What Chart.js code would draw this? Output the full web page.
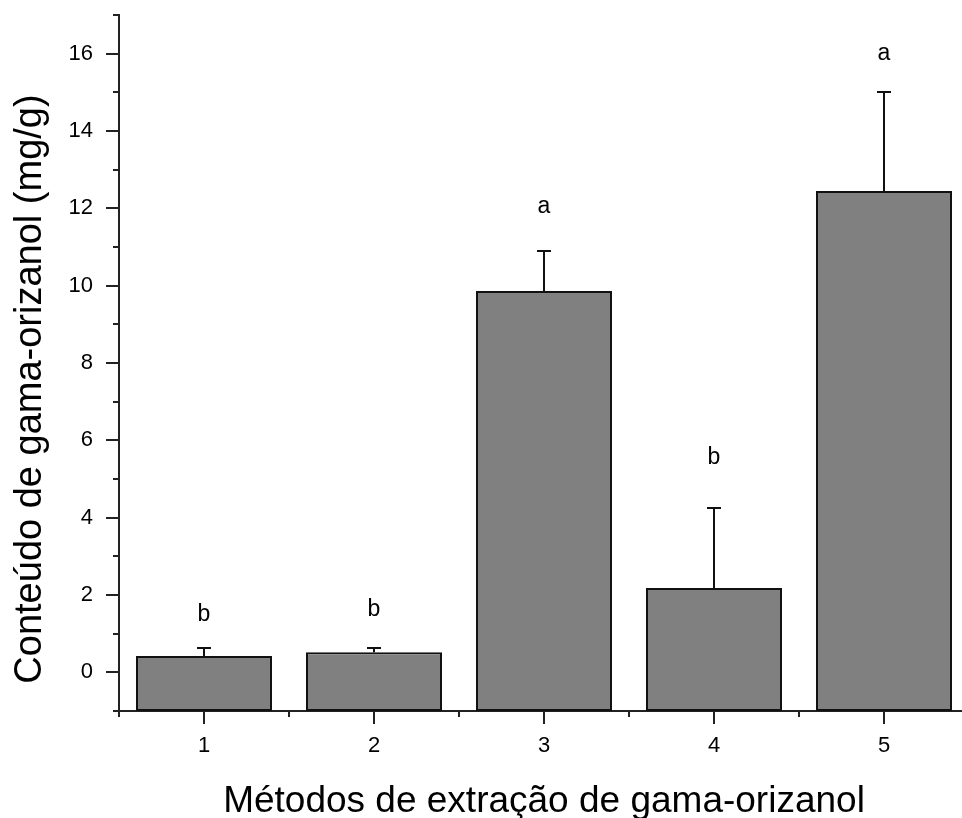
<!DOCTYPE html>
<html><head><meta charset="utf-8">
<script src="https://cdn.jsdelivr.net/npm/chart.js@4.4.0/dist/chart.umd.min.js"></script>
<style>html,body{margin:0;padding:0;background:#fff;overflow:hidden;}#wrap{width:975px;height:818px;position:relative;}</style>
</head><body><div id="wrap"><canvas id="c"></canvas></div>
<script>
// ---- data ----
const categories = ['1', '2', '3', '4', '5'];
const means = [0.42, 0.52, 9.86, 2.18, 12.45];
const stdDev = [0.21, 0.12, 1.03, 2.07, 2.55];
const groupLetters = ['b', 'b', 'a', 'b', 'a'];
const letterLevels = [1.33, 1.45, 11.89, 5.38, 15.83];
const yTickLabels = [0, 2, 4, 6, 8, 10, 12, 14, 16];
const yMin = -1, yMax = 17;
const xTitle = 'Métodos de extração de gama-orizanol';
const yTitle = 'Conteúdo de gama-orizanol (mg/g)';

const FONT = '"Liberation Sans", Arial, sans-serif';
const AXIS = '#222';

const decor = {
  id: 'decor',
  afterDatasetsDraw(chart) {
    const ctx = chart.ctx, xs = chart.scales.x, ys = chart.scales.y, ca = chart.chartArea;
    ctx.save();
    // error bars (upper only)
    ctx.strokeStyle = '#111'; ctx.lineWidth = 2;
    means.forEach((m, i) => {
      const x = Math.round(xs.getPixelForValue(i));
      const y0 = ys.getPixelForValue(m), y1 = Math.round(ys.getPixelForValue(m + stdDev[i]));
      ctx.beginPath();
      ctx.moveTo(x, y0); ctx.lineTo(x, y1);
      ctx.moveTo(x - 7, y1); ctx.lineTo(x + 7, y1);
      ctx.stroke();
    });
    // significance letters
    ctx.fillStyle = '#000'; ctx.font = '23px ' + FONT;
    ctx.textAlign = 'center'; ctx.textBaseline = 'alphabetic';
    groupLetters.forEach((t, i) => ctx.fillText(t, xs.getPixelForValue(i), ys.getPixelForValue(letterLevels[i])));
    // tick marks
    ctx.strokeStyle = AXIS; ctx.lineWidth = 2;
    ctx.beginPath();
    for (let v = yMin; v <= yMax; v++) {
      const y = Math.round(ys.getPixelForValue(v));
      const len = yTickLabels.includes(v) ? 13 : 6;
      ctx.moveTo(ca.left - len, y); ctx.lineTo(ca.left, y);
    }
    for (let i = 0; i < categories.length; i++) {
      const x = Math.round(xs.getPixelForValue(i));
      ctx.moveTo(x, ca.bottom); ctx.lineTo(x, ca.bottom + 13);
      const xm = Math.round(xs.getPixelForValue(i - 0.5));
      ctx.moveTo(xm, ca.bottom); ctx.lineTo(xm, ca.bottom + 6);
    }
    const xe = Math.round(xs.getPixelForValue(categories.length - 0.5));
    ctx.moveTo(xe, ca.bottom); ctx.lineTo(xe, ca.bottom + 6);
    ctx.stroke();
    ctx.restore();
  },
  afterDraw(chart) {
    const ctx = chart.ctx, ca = chart.chartArea;
    ctx.save();
    ctx.fillStyle = '#000';
    ctx.textAlign = 'center'; ctx.textBaseline = 'alphabetic';
    ctx.font = '37px ' + FONT;
    ctx.fillText(xTitle, (ca.left + ca.right) / 2, 812);
    ctx.translate(41, 389);
    ctx.rotate(-Math.PI / 2);
    ctx.font = '38px ' + FONT;
    ctx.fillText(yTitle, 0, 0);
    ctx.restore();
  }
};

new Chart(document.getElementById('c'), {
  type: 'bar',
  data: {
    labels: categories,
    datasets: [{
      data: means,
      base: yMin,
      backgroundColor: '#808080',
      borderColor: '#111',
      borderWidth: 2,
      borderSkipped: false,
      barPercentage: 0.8,
      categoryPercentage: 1.0
    }]
  },
  options: {
    responsive: true,
    maintainAspectRatio: false,
    animation: false,
    layout: { padding: { top: 15, right: 6, left: 0, bottom: 0 } },
    plugins: { legend: { display: false }, tooltip: { enabled: false } },
    scales: {
      x: {
        type: 'category',
        offset: true,
        grid: { display: false, drawTicks: false },
        border: { display: true, color: AXIS, width: 2 },
        ticks: { color: '#000', font: { family: FONT, size: 22 }, padding: 22, maxRotation: 0 },
        afterFit(s) { s.height = 107; s.paddingLeft = 0; s.paddingRight = 0; }
      },
      y: {
        min: yMin, max: yMax,
        grid: { display: false, drawTicks: false },
        border: { display: true, color: AXIS, width: 2 },
        ticks: {
          stepSize: 2,
          color: '#000',
          font: { family: FONT, size: 22 },
          padding: 26,
          callback: (v) => yTickLabels.includes(v) ? String(v) : ''
        },
        afterBuildTicks(s) { s.ticks = yTickLabels.map(v => ({ value: v })); },
        afterFit(s) { s.width = 119; s.paddingTop = 0; s.paddingBottom = 0; }
      }
    }
  },
  plugins: [decor]
});
</script></body></html>
